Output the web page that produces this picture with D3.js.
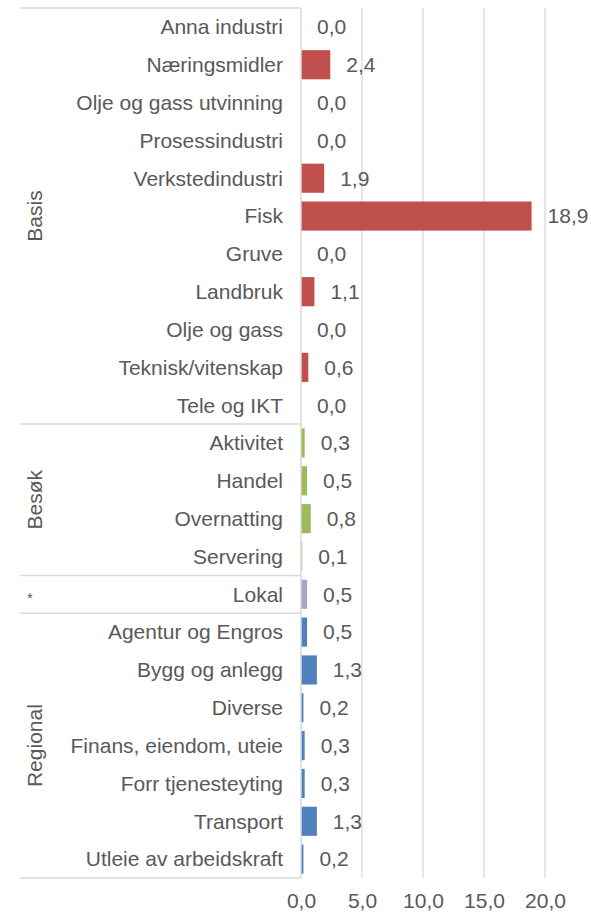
<!DOCTYPE html>
<html>
<head>
<meta charset="utf-8">
<script src="https://cdn.jsdelivr.net/npm/d3@7"></script>
<style>
  body { margin: 0; background: #fff; }
  text { font-family: "Liberation Sans", Arial, sans-serif; fill: #595959; }
</style>
</head>
<body>
<div id="chart"></div>
<script>
var categories = ["Anna industri", "Næringsmidler", "Olje og gass utvinning", "Prosessindustri",
  "Verkstedindustri", "Fisk", "Gruve", "Landbruk", "Olje og gass", "Teknisk/vitenskap", "Tele og IKT",
  "Aktivitet", "Handel", "Overnatting", "Servering",
  "Lokal",
  "Agentur og Engros", "Bygg og anlegg", "Diverse", "Finans, eiendom, uteie", "Forr tjenesteyting",
  "Transport", "Utleie av arbeidskraft"]
var values = [0.0, 2.4, 0.0, 0.0, 1.9, 18.9, 0.0, 1.1, 0.0, 0.6, 0.0,
  0.3, 0.5, 0.8, 0.1,
  0.5,
  0.5, 1.3, 0.2, 0.3, 0.3, 1.3, 0.2]
var groupNames = ["Basis", "Besøk", "*", "Regional"]
var groupSizes = [11, 4, 1, 7]
var groupColors = ["#C0504D", "#9BBB59", "#B3A2C7", "#4F81BD"]
var xTicks = [0, 5, 10, 15, 20]

var width = 591, height = 912
var margin = {top: 8, right: 45, bottom: 34, left: 301}
var innerW = 545 - margin.left
var innerH = 878 - margin.top
var fontSize = "21px"

var svg = d3.select("#chart").append("svg")
  .attr("width", width)
  .attr("height", height)

var g = svg.append("g")
  .attr("transform", "translate(" + margin.left + "," + margin.top + ")")

var x = d3.scaleLinear().domain([0, 20]).range([0, innerW])
var y = d3.scaleBand().domain(categories).range([0, innerH]).paddingInner(0.23).paddingOuter(0.115)

// which group each row belongs to
var rowGroup = []
groupSizes.forEach(function(n, gi) {
  for (var i = 0; i < n; i++) rowGroup.push(gi)
})

var fmt = function(v) { return d3.format(".1f")(v).replace(".", ",") }

// gridlines
g.selectAll(".grid")
  .data(xTicks.slice(1))
  .enter().append("line")
  .attr("x1", function(d) { return x(d) })
  .attr("x2", function(d) { return x(d) })
  .attr("y1", 0)
  .attr("y2", innerH)
  .attr("stroke", "#d9d9d9")
  .attr("stroke-width", 1.3)

// bars
g.selectAll(".bar")
  .data(values)
  .enter().append("rect")
  .attr("x", 0)
  .attr("y", function(d, i) { return y(categories[i]) })
  .attr("width", function(d) { return x(d) })
  .attr("height", y.bandwidth())
  .attr("fill", function(d, i) { return groupColors[rowGroup[i]] })

// value labels
g.selectAll(".val")
  .data(values)
  .enter().append("text")
  .attr("x", function(d) { return x(d) + 16 })
  .attr("y", function(d, i) { return y(categories[i]) + y.bandwidth() / 2 })
  .attr("dy", "0.35em")
  .style("font-size", fontSize)
  .text(fmt)

// category labels
g.selectAll(".cat")
  .data(categories)
  .enter().append("text")
  .attr("x", -18)
  .attr("y", function(d) { return y(d) + y.bandwidth() / 2 })
  .attr("dy", "0.35em")
  .attr("text-anchor", "end")
  .style("font-size", fontSize)
  .text(function(d) { return d })

// group separators and labels
var step = y.step()
var offset = y(categories[0]) - y.paddingInner() * step / 2
var start = 0
var seps = [0]
groupSizes.forEach(function(n) { start += n; seps.push(start) })

g.selectAll(".sep")
  .data(seps)
  .enter().append("line")
  .attr("x1", 20 - margin.left)
  .attr("x2", 0)
  .attr("y1", function(d) { return d === 0 ? 0 : (d === categories.length ? innerH : offset + d * step) })
  .attr("y2", function(d) { return d === 0 ? 0 : (d === categories.length ? innerH : offset + d * step) })
  .attr("stroke", "#d9d9d9")
  .attr("stroke-width", 1.5)

g.selectAll(".grp")
  .data(groupNames)
  .enter().append("text")
  .attr("transform", function(d, i) {
    var mid = offset + (seps[i] + seps[i + 1]) / 2 * step
    return i === 2 ? "translate(" + (30 - margin.left) + "," + (mid + 3) + ")"
                   : "translate(" + (35 - margin.left) + "," + mid + ") rotate(-90)"
  })
  .attr("dy", "0.35em")
  .attr("text-anchor", "middle")
  .style("font-size", function(d, i) { return i === 2 ? "15px" : fontSize })
  .text(function(d) { return d })

// axis line
g.append("line")
  .attr("x1", 0).attr("x2", 0)
  .attr("y1", 0).attr("y2", innerH)
  .attr("stroke", "#d9d9d9")
  .attr("stroke-width", 1.5)

// x axis
var xAxis = g.append("g")
  .attr("transform", "translate(0," + innerH + ")")
  .call(d3.axisBottom(x).tickValues(xTicks).tickSize(0).tickPadding(15).tickFormat(fmt))
xAxis.select(".domain").remove()
xAxis.selectAll("text")
  .style("font-size", fontSize)
  .style("font-family", "'Liberation Sans', Arial, sans-serif")
  .attr("fill", "#595959")
</script>
</body>
</html>
